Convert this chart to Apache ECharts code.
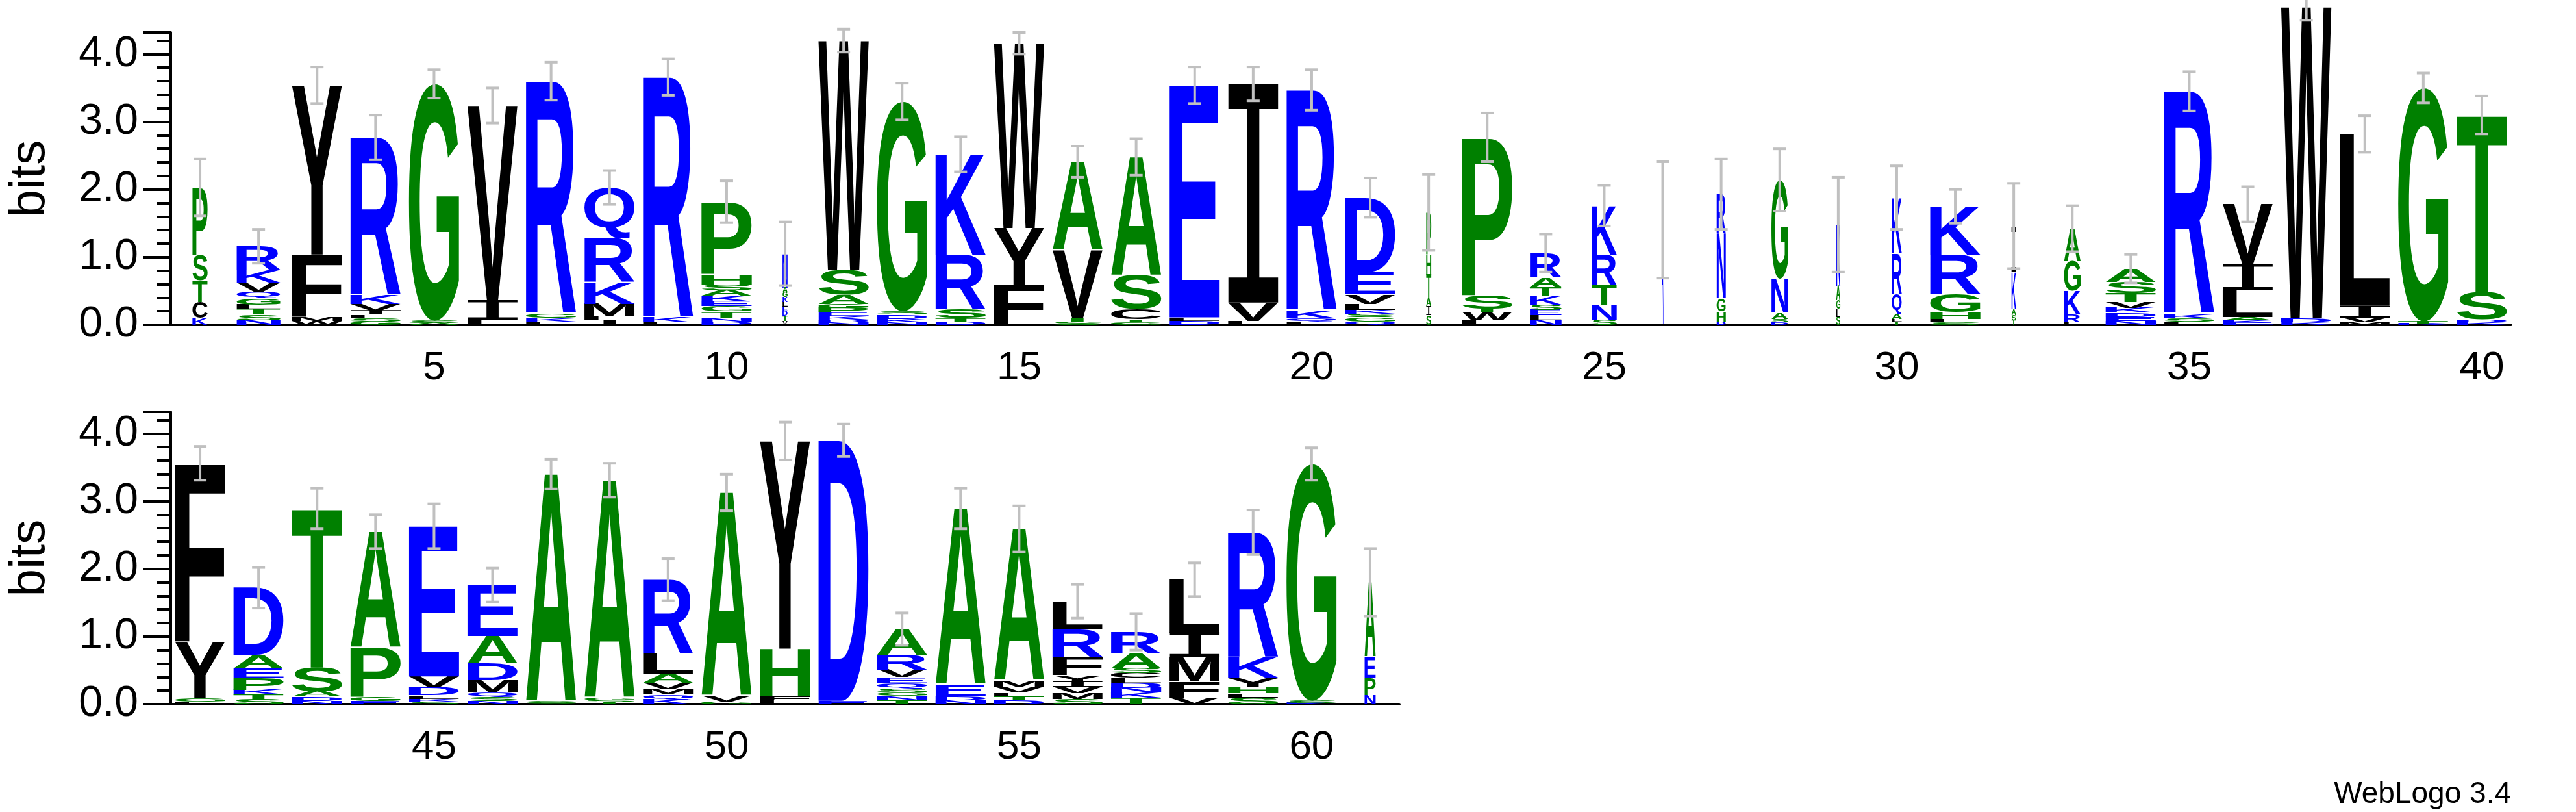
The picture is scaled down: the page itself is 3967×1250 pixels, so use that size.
<!DOCTYPE html>
<html><head><meta charset="utf-8">
<script src="https://cdn.jsdelivr.net/npm/echarts@6/dist/echarts.min.js"></script>
<style>html,body{margin:0;padding:0;background:#fff}#c{width:3967px;height:1250px}</style>
</head><body><div id="c"></div>
<script>
// ---- data (bottom -> top letters per position, heights in bits) ----
const positionsTop = Array.from({length:40},(_, i)=>String(i+1));
const positionsBottom = Array.from({length:21},(_, i)=>String(i+41));
const stackLetters = [
 "KCTSP","NSTLGQVKR","WMFY","GSLIVKR","ASG","LIV","LKGR","ILMKRQ","LKR","DNTGEKASHP",
 "VTDELKGAN","NDKEPGASW","NKDSG","DTSRK","FYW","STVA","GTCSA","DLE","LVI","LQKR",
 "QGSKLVED","SIATHP","LWTSP","NLESKTAR","SNTRK","R","DHGNR","DSANG","SLGAK","TLAQRK",
 "SLHGRK","TSAKI","LRKGA","NEDKVTSA","LSKR","EKALIV","KDW","MVIL","KTG","KDST",
 "LGYF","STKPEAD","NDAST","EGPA","SKLDVE","NSQMDAE","SGA","TSGA","KQMVALR","GVA",
 "LFHY","ED","TNGSQEVRA","NDEA","DTLVMA","SMVIYFRL","TKNDLCSAR","VFMIL","SLHYKR","KSG","NPEA"
];
const stackHeights = [
 [.10,.24,.32,.38,.99],[.07,.08,.08,.07,.09,.10,.13,.19,.35],[.06,.06,.92,2.5],[.05,.05,.05,.06,.10,.13,2.33],[.03,.03,3.5],
 [.08,.28,2.88],[.05,.05,.06,3.44],[.07,.06,.18,.32,.65,.75],[.04,.07,3.55],[.05,.05,.10,.08,.07,.08,.08,.09,.15,1.07],
 [.06,.07,.07,.07,.07,.07,.07,.07,.5],[.04,.04,.05,.05,.07,.06,.14,.36,3.39],[.04,.05,.06,.05,3.1],[.05,.05,.12,.82,1.48],[.6,.83,2.73],
 [.05,.06,1.0,1.3],[.04,.04,.15,.5,1.75],[.06,.05,3.43],[.06,.27,3.23],[.05,.05,.11,3.26],
 [.05,.06,.05,.06,.09,.14,.33,1.1],[.14,.14,.12,.34,.3,.62],[.07,.12,.05,.2,2.33],[.07,.07,.08,.08,.12,.14,.14,.36],[.07,.22,.29,.46,.72],
 [1.55],[.05,.15,.19,.96,.58],[.04,.05,.09,.5,1.46],[.12,.12,.12,.22,.9],[.05,.04,.07,.3,.6,.82],
 [.04,.05,.10,.27,.58,.71],[.07,.07,.09,.55,.68],[.04,.11,.35,.44,.48],[.06,.06,.06,.07,.09,.13,.16,.2],[.05,.05,.06,3.29],
 [.03,.04,.05,.4,.38,.88],[.04,.06,4.6],[.04,.07,.17,2.54],[.02,.03,3.45],[.04,.04,.4,2.62],
 [.04,.05,.84,2.63],[.07,.07,.07,.17,.15,.2,.99],[.05,.06,.08,.35,2.35],[.05,.06,.73,1.71],[.04,.04,.05,.12,.16,2.22],
 [.05,.06,.06,.19,.24,.41,.75],[.02,.02,3.36],[.03,.03,.03,3.22],[.07,.07,.08,.10,.13,.29,1.1],[.04,.08,3.01],
 [.06,.06,.7,3.07],[.05,3.85],[.06,.06,.05,.06,.08,.09,.11,.22,.38],[.06,.06,.17,2.6],[.06,.06,.05,.09,.09,2.24],
 [.08,.08,.10,.07,.10,.27,.41,.41],[.10,.07,.07,.07,.08,.07,.07,.22,.32],[.10,.24,.36,.36,.78],[.10,.06,.09,.14,.3,1.85],[.02,.03,3.5],[.13,.25,.32,1.1]
];
const stackWidths = [
 .3,.87,1,1,1,1,1,1,1,1, .1,1,1,1,1,1,1,1,1,1, 1,.1,1,.63,.5,.03,.18,.33,.08,.2,
 1,.09,.33,1,1,1,1,1,1,1, 1,1,1,1,1,1,1,1,1,1, 1,1,1,1,1,1,1,1,1,1,.22
];
const errorHalf = [
 .42,.25,.27,.33,.21,.26,.28,.25,.27,.31, .47,.17,.27,.26,.16,.23,.27,.27,.25,.3,
 .29,.56,.36,.28,.3,.86,.52,.46,.7,.47, .25,.63,.34,.21,.29,.26,.2,.27,.22,.28,
 .25,.3,.3,.25,.33,.25,.22,.25,.31,.27, .28,.24,.24,.3,.34,.25,.27,.25,.33,.24,.5
];
const yTicks = [0,1,2,3,4];
// ---------------------------------------------------------------
const colorOf = ch => ("RKQDEN".includes(ch) ? "#0000ff" : ("GSTAPH".includes(ch) ? "#008000" : "#000000"));
const FONT_SIZE = 200, FONT_FAMILY = "Liberation Sans";
const fontFor = ch => (ch === 'I' ? "DejaVu Sans Mono" : FONT_FAMILY);
const weightFor = ch => (ch === 'I' ? "normal" : "bold");
const ctx = document.createElement('canvas').getContext('2d');
ctx.textBaseline = 'middle'; ctx.textAlign = 'left';
const glyph = {};
function bounds(ch){
  if(!glyph[ch]){
    ctx.font = weightFor(ch) + " " + FONT_SIZE + "px '" + fontFor(ch) + "'";
    const m = ctx.measureText(ch);
    glyph[ch] = {l:-m.actualBoundingBoxLeft, r:m.actualBoundingBoxRight, t:-m.actualBoundingBoxAscent, b:m.actualBoundingBoxDescent}; }
  return glyph[ch];
}
const totals = stackHeights.map(a => a.reduce((s,v)=>s+v,0));

function renderItem(params, api){
  const pos = api.value(2), ci = api.value(0);
  const base = api.coord([ci, 0]);
  const unit = base[1] - api.coord([ci, 1])[1];
  const nCat = pos < 40 ? 40 : 21;
  const band = params.coordSys.width / nCat;
  const w = band * 0.86 * stackWidths[pos];
  const x0 = base[0] - w/2;
  let y = base[1];
  const children = [];
  const letters = stackLetters[pos], hs = stackHeights[pos];
  for(let i=0;i<letters.length;i++){
    const ch = letters[i], h = hs[i]*unit;
    const g = bounds(ch);
    const sx = w/(g.r-g.l), sy = h/(g.b-g.t);
    children.push({type:'text', x: x0 - g.l*sx, y: (y-h) - g.t*sy, scaleX: sx, scaleY: sy,
      style:{text: ch, x:0, y:0, fill: colorOf(ch), fontSize: FONT_SIZE, fontFamily: fontFor(ch), fontWeight: weightFor(ch),
        align:'left', verticalAlign:'middle', textAlign:'left', textVerticalAlign:'middle'}});
    y -= h;
  }
  const yc = base[1] - totals[pos]*unit, eh = errorHalf[pos]*unit, cx = base[0], cw = 10;
  const es = {stroke:'#c0c0c0', lineWidth:4};
  children.push({type:'line', shape:{x1:cx,y1:yc-eh,x2:cx,y2:yc+eh}, style:es});
  children.push({type:'line', shape:{x1:cx-cw,y1:yc-eh,x2:cx+cw,y2:yc-eh}, style:es});
  children.push({type:'line', shape:{x1:cx-cw,y1:yc+eh,x2:cx+cw,y2:yc+eh}, style:es});
  return {type:'group', children};
}

const fam = FONT_FAMILY;
function xAxes(grid, cats){
  const major = (i)=> (Number(cats[i])%5===0);
  return [
    {type:'category', gridIndex:grid, data:cats, boundaryGap:true,
     axisLine:{lineStyle:{color:'#000', width:4}},
     axisTick:{alignWithLabel:true, interval:0, length:8, lineStyle:{color:'#000', width:4}},
     axisLabel:{show:false}, splitLine:{show:false}},
    {type:'category', gridIndex:grid, data:cats, boundaryGap:true, position:'bottom',
     axisLine:{show:false},
     axisTick:{alignWithLabel:true, interval:(i)=>major(i), length:20, lineStyle:{color:'#000', width:4}},
     axisLabel:{interval:(i)=>major(i), fontSize:62, margin:36, color:'#000', fontFamily:fam}, splitLine:{show:false}}
  ];
}
function yAxis(grid){
  return {type:'value', gridIndex:grid, min:0, max:4.32, interval:1,
    name:'bits', nameLocation:'middle', nameGap:178, nameRotate:90,
    nameTextStyle:{fontSize:76, color:'#000', fontFamily:fam},
    axisLine:{show:true, lineStyle:{color:'#000', width:4}},
    axisTick:{show:true, length:43, lineStyle:{color:'#000', width:4}},
    minorTick:{show:true, splitNumber:5, length:21, lineStyle:{color:'#000', width:4}},
    splitLine:{show:false}, minorSplitLine:{show:false},
    axisLabel:{fontSize:66, margin:50, color:'#000', fontFamily:fam, showMaxLabel:false,
      formatter:(v)=> yTicks.includes(v) ? v.toFixed(1) : ''}};
}
const chart = echarts.init(document.getElementById('c'), null, {renderer:'canvas'});
chart.setOption({
  animation:false, backgroundColor:'#fff',
  grid:[{left:263, right:100, top:50, bottom:750},{left:263, right:1812, top:634, bottom:166}],
  xAxis:[...xAxes(0, positionsTop), ...xAxes(1, positionsBottom)],
  yAxis:[yAxis(0), yAxis(1)],
  series:[
    {type:'custom', xAxisIndex:0, yAxisIndex:0, clip:false, renderItem, encode:{x:0,y:1},
     data: positionsTop.map((p,i)=>[i, totals[i], i])},
    {type:'custom', xAxisIndex:2, yAxisIndex:1, clip:false, renderItem, encode:{x:0,y:1},
     data: positionsBottom.map((p,i)=>[i, totals[40+i], 40+i])}
  ],
  graphic:[{type:'text', right:100, top:1200, style:{text:'WebLogo 3.4', fontSize:46, fill:'#000', fontFamily:fam}}]
});
</script></body></html>
